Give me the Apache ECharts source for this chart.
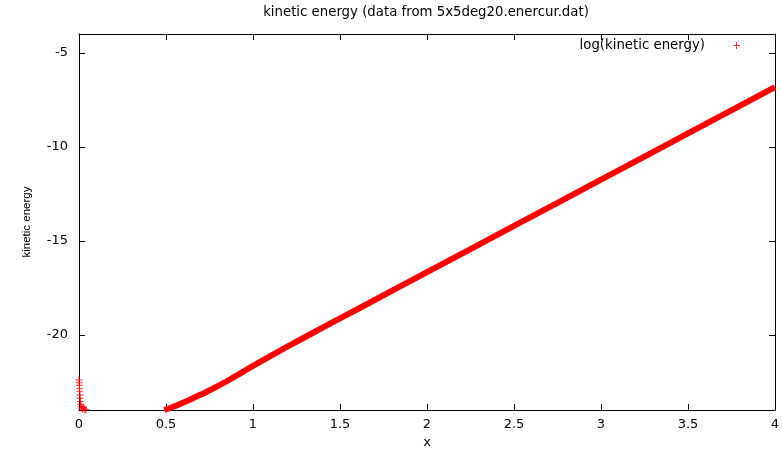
<!DOCTYPE html>
<html>
<head>
<meta charset="utf-8">
<title>kinetic energy (data from 5x5deg20.enercur.dat)</title>
<script src="https://cdn.jsdelivr.net/npm/echarts@6/dist/echarts.min.js"></script>
<style>
html, body { margin: 0; padding: 0; background: #fff; }
#main { width: 782px; height: 451px; }
</style>
</head>
<body>
<div id="main"></div>
<script>
// early samples near t = 0 (drawn as + markers)
const startTimes = [0, 0.001, 0.002, 0.003, 0.004, 0.005, 0.006, 0.008, 0.01, 0.012, 0.015, 0.02, 0.025, 0.03, 0.035, 0.04];
const startLogKE = [-22.4, -22.55, -22.68, -22.85, -23.0, -23.2, -23.38, -23.55, -23.7, -23.8, -23.9, -23.95, -23.85, -23.95, -24.0, -23.98];

// dense growth phase (reads as a thick band in the picture)
const growthTimes = [0.49, 0.55, 0.6, 0.7, 0.8, 0.9, 1.0, 1.2, 1.4, 1.6, 2.0, 2.5, 3.0, 3.5, 4.0];
const growthLogKE = [-24.0, -23.8, -23.6, -23.18, -22.72, -22.2, -21.65, -20.62, -19.62, -18.64, -16.67, -14.21, -11.75, -9.29, -6.83];

const yTicks = [-20, -15, -10, -5];
const seriesName = 'log(kinetic energy)';

const plusIcon = 'path://M4.3,0H5.7V10H4.3ZM0,4.3H10V5.7H0Z';
const RED = '#ff0000';
const FONT = 'DejaVu Sans';

const chart = echarts.init(document.getElementById('main'), null, { renderer: 'canvas' });

const axisLineStyle = { color: '#000', width: 1 };

const option = {
    animation: false,
    backgroundColor: '#fff',
    title: {
        text: 'kinetic energy (data from 5x5deg20.enercur.dat)',
        left: 426,
        textAlign: 'center',
        top: 6,
        padding: 0,
        textStyle: { fontFamily: FONT, fontSize: 13.3, fontWeight: 'normal', color: '#000' }
    },
    legend: {
        data: [{ name: seriesName, icon: plusIcon }],
        right: 42,
        top: 39,
        padding: 0,
        align: 'right',
        itemWidth: 7,
        itemHeight: 7,
        textStyle: { fontFamily: FONT, fontSize: 13.3, color: '#000', padding: [0, 23, 0, 0] }
    },
    grid: { left: 79, right: 7, top: 34, bottom: 41, outerBoundsMode: 'none', containLabel: false },
    xAxis: [{
        type: 'value',
        min: 0, max: 4, interval: 0.5,
        name: 'x',
        nameLocation: 'middle',
        nameGap: 23,
        nameTextStyle: { fontFamily: FONT, fontSize: 13, color: '#000' },
        axisLine: { onZero: false, lineStyle: axisLineStyle },
        axisTick: { inside: true, length: 6, lineStyle: axisLineStyle },
        axisLabel: { margin: 8, fontFamily: FONT, fontSize: 13, color: '#000', showMinLabel: true, showMaxLabel: true },
        splitLine: { show: false }
    }, {
        type: 'value',
        position: 'top',
        min: 0, max: 4, interval: 0.5,
        axisLine: { onZero: false, lineStyle: axisLineStyle },
        axisTick: { inside: true, length: 6, lineStyle: axisLineStyle },
        axisLabel: { show: false },
        splitLine: { show: false }
    }],
    yAxis: [{
        type: 'value',
        min: -24, max: -4,
        name: 'kinetic energy',
        nameLocation: 'middle',
        nameGap: 46,
        nameTextStyle: { fontFamily: 'Liberation Sans', fontSize: 11.5, color: '#000' },
        axisLine: { show: true, onZero: false, lineStyle: axisLineStyle },
        axisTick: { inside: true, length: 6, customValues: yTicks, lineStyle: axisLineStyle },
        axisLabel: { margin: 11, fontFamily: FONT, fontSize: 13, color: '#000', customValues: yTicks },
        splitLine: { show: false }
    }, {
        type: 'value',
        position: 'right',
        min: -24, max: -4,
        axisLine: { show: true, onZero: false, lineStyle: axisLineStyle },
        axisTick: { inside: true, length: 6, customValues: yTicks, lineStyle: axisLineStyle },
        axisLabel: { show: false },
        splitLine: { show: false }
    }],
    series: [{
        name: seriesName,
        type: 'scatter',
        symbol: plusIcon,
        symbolSize: 7,
        itemStyle: { color: RED },
        data: startTimes.map((t, i) => [t, startLogKE[i]])
    }, {
        name: seriesName,
        type: 'line',
        showSymbol: false,
        symbol: 'none',
        smooth: true,
        lineStyle: { color: RED, width: 6 },
        itemStyle: { color: RED },
        data: growthTimes.map((t, i) => [t, growthLogKE[i]])
    }]
};

chart.setOption(option);
</script>
</body>
</html>
